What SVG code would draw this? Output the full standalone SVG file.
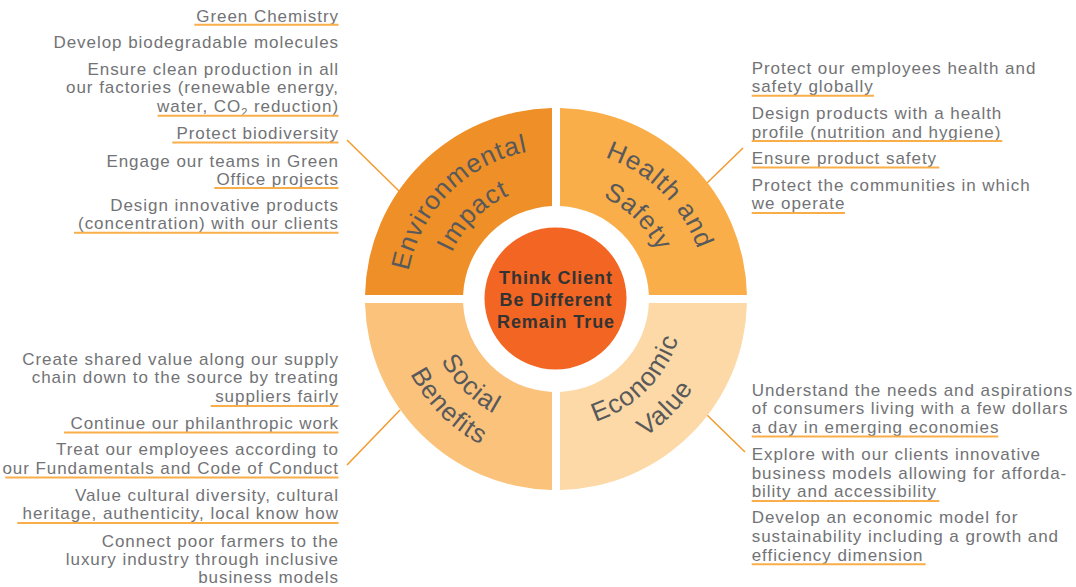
<svg xmlns="http://www.w3.org/2000/svg" width="1076" height="587" viewBox="0 0 1076 587">
<style>
.t{font-family:"Liberation Sans",Arial,sans-serif;font-size:17px;letter-spacing:0.95px;fill:#727376}
.e{text-anchor:end}
.u{stroke:#f9ae4a;stroke-width:2;fill:none}
.q{font-family:"Liberation Sans",Arial,sans-serif;font-size:26px;letter-spacing:1px;fill:#58595b;text-anchor:middle}
.c{font-family:"Liberation Sans",Arial,sans-serif;font-size:18px;font-weight:bold;letter-spacing:0.9px;fill:#333333;text-anchor:middle}
.cn{stroke:#f39a2b;stroke-width:1.5;fill:none}
</style>
<defs>
<path id="pEnv" d="M 449.93,405.07 A 150 150 0 0 1 662.07,192.93"/>
<path id="pImp" d="M 475.39,379.61 A 114 114 0 0 1 636.61,218.39"/>
<path id="pHea" d="M 449.93,192.93 A 150 150 0 0 1 662.07,405.07"/>
<path id="pSaf" d="M 476.10,219.10 A 113 113 0 0 1 635.90,378.90"/>
<path id="pSoc" d="M 463.37,206.37 A 131 131 0 0 0 648.63,391.63"/>
<path id="pBen" d="M 439.33,182.33 A 165 165 0 0 0 672.67,415.67"/>
<path id="pEco" d="M 464.08,390.92 A 130 130 0 0 0 647.92,207.08"/>
<path id="pVal" d="M 440.03,414.97 A 164 164 0 0 0 671.97,183.03"/>
</defs>
<rect width="1076" height="587" fill="#ffffff"/>

<g id="connectors">
<line class="cn" x1="347" y1="140" x2="400" y2="192"/>
<line class="cn" x1="707" y1="183" x2="743" y2="148"/>
<line class="cn" x1="347" y1="465" x2="400" y2="410"/>
<line class="cn" x1="707" y1="415" x2="745" y2="452"/>
</g>

<g id="env-impact">
<path d="M 365.04,295 A 191 191 0 0 1 552,108.04 L 552,206.09 A 93 93 0 0 0 463.09,295 Z" fill="#ee8f27"/>
<text class="q"><textPath href="#pEnv" startOffset="50%">Environmental</textPath></text>
<text class="q"><textPath href="#pImp" startOffset="50%">Impact</textPath></text>
</g>
<g id="health-safety">
<path d="M 560,108.04 A 191 191 0 0 1 746.96,295 L 648.91,295 A 93 93 0 0 0 560,206.09 Z" fill="#f9ae4a"/>
<text class="q"><textPath href="#pHea" startOffset="50%">Health and</textPath></text>
<text class="q"><textPath href="#pSaf" startOffset="50%">Safety</textPath></text>
</g>
<g id="economic-value">
<path d="M 746.96,303 A 191 191 0 0 1 560,489.96 L 560,391.91 A 93 93 0 0 0 648.91,303 Z" fill="#fcd9a6"/>
<text class="q"><textPath href="#pEco" startOffset="50%">Economic</textPath></text>
<text class="q"><textPath href="#pVal" startOffset="50%">Value</textPath></text>
</g>
<g id="social-benefits">
<path d="M 552,489.96 A 191 191 0 0 1 365.04,303 L 463.09,303 A 93 93 0 0 0 552,391.91 Z" fill="#fbc27b"/>
<text class="q"><textPath href="#pSoc" startOffset="50%">Social</textPath></text>
<text class="q"><textPath href="#pBen" startOffset="50%">Benefits</textPath></text>
</g>
<g id="center">
<circle cx="555.5" cy="298.5" r="71" fill="#f26522"/>
<text class="c" x="556" y="283.5">Think Client</text>
<text class="c" x="556" y="305.5">Be Different</text>
<text class="c" x="556" y="327.5">Remain True</text>
</g>

<g id="list-environmental">
<text class="t e" x="339" y="21.7">Green Chemistry</text>
<line class="u" x1="194.3" y1="24.8" x2="338.5" y2="24.8"/>
<text class="t e" x="339" y="48">Develop biodegradable molecules</text>
<text class="t e" x="339" y="75">Ensure clean production in all</text>
<text class="t e" x="339" y="93">our factories (renewable energy,</text>
<text class="t e" x="339" y="111.5">water, CO<tspan font-size="11" dy="4">2</tspan><tspan dy="-4"> reduction)</tspan></text>
<line class="u" x1="157.7" y1="115.8" x2="338.5" y2="115.8"/>
<text class="t e" x="339" y="139">Protect biodiversity</text>
<line class="u" x1="172.3" y1="142.6" x2="338.5" y2="142.6"/>
<text class="t e" x="339" y="166.5">Engage our teams in Green</text>
<text class="t e" x="339" y="184.5">Office projects</text>
<line class="u" x1="214.3" y1="188" x2="338.5" y2="188"/>
<text class="t e" x="339" y="210.7">Design innovative products</text>
<text class="t e" x="339" y="229">(concentration) with our clients</text>
<line class="u" x1="74" y1="232.8" x2="338.5" y2="232.8"/>
</g>

<g id="list-health">
<text class="t" x="751.7" y="74">Protect our employees health and</text>
<text class="t" x="751.7" y="92.3">safety globally</text>
<line class="u" x1="751.7" y1="95.8" x2="874" y2="95.8"/>
<text class="t" x="751.7" y="119">Design products with a health</text>
<text class="t" x="751.7" y="137.7">profile (nutrition and hygiene)</text>
<line class="u" x1="751.7" y1="141" x2="1002.3" y2="141"/>
<text class="t" x="751.7" y="164">Ensure product safety</text>
<line class="u" x1="751.7" y1="167.5" x2="939.3" y2="167.5"/>
<text class="t" x="751.7" y="190.7">Protect the communities in which</text>
<text class="t" x="751.7" y="209.3">we operate</text>
<line class="u" x1="751.7" y1="213" x2="845" y2="213"/>
</g>

<g id="list-social">
<text class="t e" x="339" y="365">Create shared value along our supply</text>
<text class="t e" x="339" y="383.3">chain down to the source by treating</text>
<text class="t e" x="339" y="402.3">suppliers fairly</text>
<line class="u" x1="210.7" y1="406" x2="338.5" y2="406"/>
<text class="t e" x="339" y="428.5">Continue our philanthropic work</text>
<line class="u" x1="64" y1="432.5" x2="338.5" y2="432.5"/>
<text class="t e" x="339" y="455">Treat our employees according to</text>
<text class="t e" x="339" y="473.7">our Fundamentals and Code of Conduct</text>
<line class="u" x1="5.3" y1="477.5" x2="338.5" y2="477.5"/>
<text class="t e" x="339" y="500.5">Value cultural diversity, cultural</text>
<text class="t e" x="339" y="519">heritage, authenticity, local know how</text>
<line class="u" x1="17.3" y1="523" x2="338.5" y2="523"/>
<text class="t e" x="339" y="546.5">Connect poor farmers to the</text>
<text class="t e" x="339" y="565">luxury industry through inclusive</text>
<text class="t e" x="339" y="583.3">business models</text>
</g>

<g id="list-economic">
<text class="t" x="751.7" y="396">Understand the needs and aspirations</text>
<text class="t" x="751.7" y="414">of consumers living with a few dollars</text>
<text class="t" x="751.7" y="432.5">a day in emerging economies</text>
<line class="u" x1="751.7" y1="436.5" x2="998.3" y2="436.5"/>
<text class="t" x="751.7" y="460">Explore with our clients innovative</text>
<text class="t" x="751.7" y="478.7">business models allowing for afforda-</text>
<text class="t" x="751.7" y="497.3">bility and accessibility</text>
<line class="u" x1="751.7" y1="501" x2="939.3" y2="501"/>
<text class="t" x="751.7" y="523.3">Develop an economic model for</text>
<text class="t" x="751.7" y="542">sustainability including a growth and</text>
<text class="t" x="751.7" y="561">efficiency dimension</text>
<line class="u" x1="751.7" y1="564.3" x2="925.7" y2="564.3"/>
</g>
</svg>
